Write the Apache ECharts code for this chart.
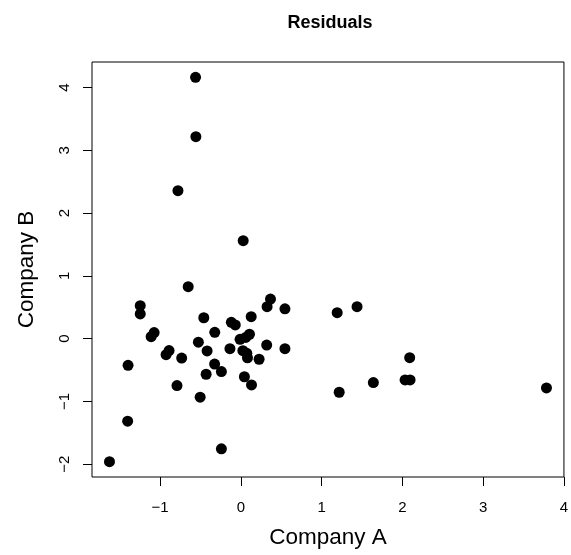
<!DOCTYPE html>
<html>
<head>
<meta charset="utf-8">
<script src="https://cdn.jsdelivr.net/npm/echarts@6/dist/echarts.min.js"></script>
<style>
  html, body { margin: 0; padding: 0; background: #fff; }
  #chart { width: 571px; height: 555px; }
</style>
</head>
<body>
<div id="chart"></div>
<script>
// Residuals of Company A (x) against residuals of Company B (y)
const residA = [
  -1.627, -1.402, -1.397, -1.246, -1.246, -1.074, -1.111, -0.889, -0.926, -0.791,
  -0.779, -0.733, -0.652, -0.561, -0.557, -0.526, -0.504, -0.459, -0.430, -0.418,
  -0.323, -0.325, -0.241, -0.241, -0.135, -0.118, -0.069,  0.029, -0.010,  0.060,
   0.107,  0.025,  0.074,  0.082,  0.044,  0.128,  0.132,  0.226,  0.320,  0.325,
   0.367,  0.546,  0.546,  1.193,  1.439,  1.218,  1.641,  2.091,  2.034,  2.096,
   3.785
];
const residB = [
  -1.959, -1.315, -0.424,  0.525,  0.393,  0.096,  0.032, -0.190, -0.255, -0.748,
   2.357, -0.310,  0.828,  4.162,  3.217, -0.057, -0.933,  0.333, -0.567, -0.196,
   0.100, -0.405, -0.525, -1.755, -0.160,  0.261,  0.218,  1.561, -0.010,  0.020,
   0.070, -0.191, -0.233, -0.305, -0.607,  0.350, -0.737, -0.328, -0.103,  0.510,
   0.630,  0.475, -0.159,  0.414,  0.510, -0.854, -0.700, -0.303, -0.658, -0.658,
  -0.785
];
const xTicks = [-1, 0, 1, 2, 3, 4];
const yTicks = [-2, -1, 0, 1, 2, 3, 4];

const points = residA.map((a, i) => [a, residB[i]]);

// Axis limits: data range widened by 4% on each side
function paddedRange(vals) {
  const lo = Math.min(...vals), hi = Math.max(...vals);
  const pad = (hi - lo) * 0.04;
  return [lo - pad, hi + pad];
}
const [xMin, xMax] = paddedRange(residA);
const [yMin, yMax] = paddedRange(residB);

const fmt = v => (v < 0 ? '\u2212' + Math.abs(v) : String(v));
const FONT = 'Liberation Sans, Arial, Helvetica, sans-serif';

const chart = echarts.init(document.getElementById('chart'), null, { renderer: 'canvas' });
chart.setOption({
  animation: false,
  backgroundColor: '#fff',
  title: {
    text: 'Residuals',
    left: 330,
    top: 14,
    padding: 0,
    textAlign: 'center',
    textStyle: { fontFamily: FONT, fontSize: 18, fontWeight: 'bold', color: '#000' }
  },
  grid: {
    left: 92, right: 4, top: 62, bottom: 78,
    show: true, borderColor: '#000', borderWidth: 1, backgroundColor: 'transparent'
  },
  xAxis: {
    type: 'value',
    min: xMin, max: xMax,
    position: 'bottom',
    name: 'Company A',
    nameLocation: 'middle',
    nameGap: 49,
    nameTextStyle: { fontFamily: FONT, fontSize: 22.5, color: '#000' },
    axisLine: { show: false, onZero: false },
    splitLine: { show: false },
    axisTick: { show: true, inside: false, length: 9, customValues: xTicks,
                lineStyle: { color: '#000', width: 1 } },
    axisLabel: { customValues: xTicks, margin: 23, formatter: fmt,
                 fontFamily: FONT, fontSize: 15, color: '#000' }
  },
  yAxis: {
    type: 'value',
    min: yMin, max: yMax,
    position: 'left',
    name: 'Company B',
    nameLocation: 'middle',
    nameRotate: 90,
    nameGap: 54,
    nameTextStyle: { fontFamily: FONT, fontSize: 22.5, color: '#000' },
    axisLine: { show: false, onZero: false },
    splitLine: { show: false },
    axisTick: { show: true, inside: false, length: 9, customValues: yTicks,
                lineStyle: { color: '#000', width: 1 } },
    axisLabel: { customValues: yTicks, margin: 20, rotate: 90, formatter: fmt,
                 fontFamily: FONT, fontSize: 15, color: '#000' }
  },
  series: [{
    type: 'scatter',
    data: points,
    symbol: 'circle',
    symbolSize: 11,
    itemStyle: { color: '#000', opacity: 1 },
    emphasis: { disabled: true }
  }]
});
</script>
</body>
</html>
